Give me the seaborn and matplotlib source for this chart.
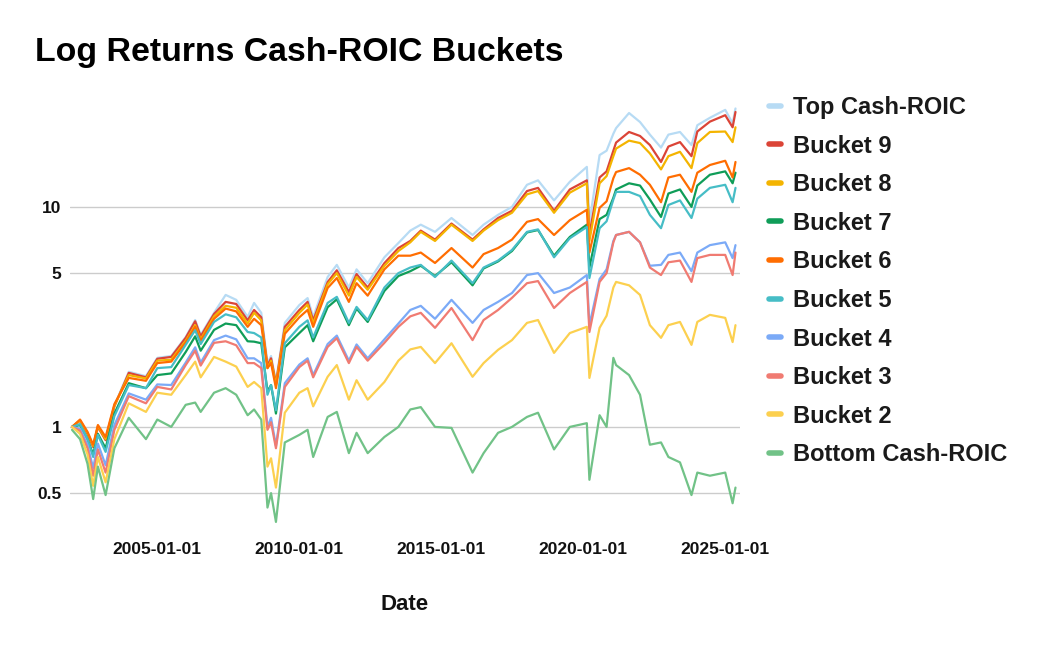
import pandas as pd
import seaborn as sns
import matplotlib.pyplot as plt
import matplotlib.dates as mdates
from matplotlib.lines import Line2D
from matplotlib.ticker import NullLocator, FixedLocator, FixedFormatter

dates = ["2002-01-02", "2002-04-15", "2002-07-20", "2002-10-01", "2002-12-01", "2003-03-10",
         "2003-07-01", "2004-01-02", "2004-08-10", "2005-01-03", "2005-07-01", "2006-01-03",
         "2006-05-05", "2006-07-15", "2007-01-03", "2007-06-01", "2007-10-15", "2008-03-10",
         "2008-06-01", "2008-09-01", "2008-11-20", "2009-01-05", "2009-03-09", "2009-07-01",
         "2010-01-04", "2010-04-20", "2010-07-01", "2011-01-03", "2011-05-01", "2011-10-03",
         "2012-01-10", "2012-06-01", "2013-01-02", "2013-07-01", "2013-12-01", "2014-04-15",
         "2014-10-15", "2015-05-15", "2016-02-10", "2016-07-01", "2017-01-03", "2017-07-01",
         "2018-01-10", "2018-06-01", "2018-12-24", "2019-07-15", "2020-02-19", "2020-03-23",
         "2020-08-01", "2020-10-30", "2021-01-25", "2021-03-01", "2021-08-15", "2022-01-03",
         "2022-05-10", "2022-09-30", "2023-01-03", "2023-06-01", "2023-10-27", "2024-01-10",
         "2024-06-20", "2025-01-03", "2025-04-08", "2025-05-15"]

top = [1.00, 1.06, 0.93, 0.82, 1.00, 0.88, 1.25, 1.78, 1.70, 2.06,
       2.10, 2.56, 3.06, 2.62, 3.30, 3.98, 3.78, 3.16, 3.66, 3.30,
       1.95, 2.10, 1.60, 2.97, 3.58, 3.85, 3.16, 4.80, 5.45, 4.30,
       5.20, 4.50, 5.90, 6.85, 7.80, 8.30, 7.70, 8.90, 7.45, 8.30,
       9.20, 10.0, 12.6, 13.2, 10.7, 13.0, 15.2, 8.50, 17.2, 18.0,
       21.5, 22.8, 26.7, 24.3, 21.3, 18.6, 21.3, 21.9, 19.1, 23.5,
       25.4, 27.6, 24.0, 28.0]
b9 = [1.00, 1.07, 0.93, 0.81, 1.00, 0.87, 1.24, 1.76, 1.68, 2.04,
      2.08, 2.54, 3.02, 2.58, 3.26, 3.70, 3.62, 3.05, 3.40, 3.15,
      1.90, 2.05, 1.58, 2.85, 3.40, 3.70, 3.05, 4.55, 5.15, 4.10,
      4.95, 4.30, 5.55, 6.50, 7.00, 7.80, 7.10, 8.40, 7.10, 7.90,
      8.90, 9.60, 11.8, 12.2, 9.60, 12.0, 13.2, 7.50, 13.6, 14.5,
      18.0, 19.6, 21.9, 21.0, 19.1, 16.0, 18.8, 19.7, 17.0, 22.0,
      24.4, 26.1, 23.0, 27.0]
b8 = [1.00, 1.07, 0.94, 0.82, 1.01, 0.88, 1.25, 1.72, 1.66, 2.00,
      2.02, 2.46, 2.90, 2.50, 3.18, 3.55, 3.48, 2.95, 3.30, 3.05,
      1.85, 2.00, 1.55, 2.75, 3.30, 3.60, 2.95, 4.45, 5.00, 3.95,
      4.80, 4.20, 5.40, 6.30, 6.90, 7.70, 7.00, 8.30, 7.00, 7.80,
      8.70, 9.40, 11.4, 11.8, 9.40, 11.6, 12.8, 7.00, 12.8, 13.8,
      17.0, 18.4, 20.0, 19.5, 17.5, 14.8, 17.0, 17.8, 15.0, 19.5,
      21.9, 22.0, 19.7, 23.0]
b7 = [1.00, 1.02, 0.88, 0.75, 0.93, 0.80, 1.15, 1.58, 1.50, 1.72,
      1.75, 2.19, 2.58, 2.22, 2.76, 2.95, 2.90, 2.45, 2.44, 2.40,
      1.45, 1.55, 1.15, 2.30, 2.67, 2.90, 2.45, 3.50, 3.80, 2.90,
      3.45, 3.00, 4.15, 4.85, 5.10, 5.40, 4.85, 5.60, 4.40, 5.25,
      5.65, 6.30, 7.65, 7.85, 6.00, 7.30, 8.30, 5.30, 8.80, 9.20,
      11.0, 12.0, 12.8, 12.5, 10.8, 9.00, 11.5, 12.0, 10.0, 12.5,
      14.0, 14.5, 12.8, 14.3]
b6 = [1.00, 1.08, 0.95, 0.83, 1.02, 0.90, 1.27, 1.67, 1.62, 1.95,
      1.98, 2.42, 2.85, 2.46, 3.10, 3.45, 3.35, 2.85, 3.10, 2.90,
      1.85, 1.95, 1.50, 2.65, 3.15, 3.40, 2.85, 4.28, 4.75, 3.70,
      4.50, 3.95, 5.20, 6.00, 6.00, 6.20, 5.56, 6.50, 5.30, 6.10,
      6.50, 7.10, 8.55, 8.80, 7.45, 8.70, 9.70, 6.20, 9.90, 10.6,
      13.5, 14.4, 15.0, 14.0, 12.6, 10.5, 13.6, 14.0, 11.7, 14.3,
      15.5, 16.2, 13.6, 16.0]
b5 = [1.00, 1.03, 0.88, 0.73, 0.92, 0.77, 1.12, 1.55, 1.50, 1.85,
      1.87, 2.36, 2.75, 2.38, 3.00, 3.25, 3.15, 2.70, 2.67, 2.55,
      1.40, 1.55, 1.19, 2.40, 2.85, 3.05, 2.55, 3.66, 3.90, 2.97,
      3.51, 3.06, 4.30, 5.00, 5.30, 5.45, 4.80, 5.70, 4.50, 5.30,
      5.70, 6.37, 7.70, 7.90, 5.90, 7.20, 8.10, 4.75, 8.00, 8.60,
      10.8, 11.7, 11.7, 11.2, 9.20, 8.00, 10.2, 10.7, 8.90, 10.9,
      12.2, 12.6, 10.5, 12.2]
b4 = [1.00, 0.98, 0.83, 0.65, 0.84, 0.67, 1.02, 1.42, 1.33, 1.56,
      1.55, 1.96, 2.30, 1.96, 2.48, 2.60, 2.50, 2.05, 2.05, 1.95,
      1.00, 1.10, 0.82, 1.58, 1.92, 2.05, 1.72, 2.38, 2.60, 2.00,
      2.37, 2.05, 2.50, 2.95, 3.40, 3.55, 3.10, 3.78, 2.97, 3.40,
      3.70, 4.06, 4.90, 5.00, 4.06, 4.30, 4.90, 2.90, 4.70, 5.20,
      7.00, 7.45, 7.70, 6.90, 5.40, 5.45, 6.05, 6.20, 5.10, 6.20,
      6.70, 6.90, 5.85, 6.70]
b3 = [1.00, 0.96, 0.80, 0.60, 0.79, 0.62, 0.97, 1.38, 1.28, 1.52,
      1.48, 1.91, 2.22, 1.90, 2.41, 2.45, 2.35, 1.95, 1.95, 1.85,
      0.97, 1.05, 0.80, 1.52, 1.87, 2.00, 1.68, 2.31, 2.53, 1.95,
      2.31, 2.00, 2.41, 2.85, 3.18, 3.30, 2.82, 3.47, 2.48, 3.06,
      3.40, 3.86, 4.50, 4.60, 3.47, 4.06, 4.56, 2.70, 4.56, 5.00,
      6.90, 7.45, 7.70, 6.90, 5.30, 4.90, 5.60, 5.70, 4.56, 5.85,
      6.05, 6.05, 4.90, 6.20]
b2 = [1.00, 0.93, 0.75, 0.54, 0.73, 0.56, 0.88, 1.28, 1.17, 1.43,
      1.40, 1.72, 1.98, 1.68, 2.08, 1.98, 1.88, 1.52, 1.60, 1.50,
      0.66, 0.72, 0.53, 1.16, 1.43, 1.50, 1.24, 1.69, 1.91, 1.33,
      1.63, 1.33, 1.60, 2.00, 2.25, 2.31, 1.95, 2.40, 1.69, 1.95,
      2.24, 2.48, 2.97, 3.06, 2.17, 2.67, 2.85, 1.67, 2.82, 3.20,
      4.30, 4.56, 4.40, 3.98, 2.90, 2.54, 2.90, 3.00, 2.36, 3.00,
      3.23, 3.13, 2.43, 2.90]
bottom = [0.97, 0.88, 0.68, 0.47, 0.66, 0.49, 0.80, 1.10, 0.88, 1.08,
          1.00, 1.26, 1.29, 1.17, 1.43, 1.50, 1.40, 1.13, 1.20, 1.08,
          0.43, 0.50, 0.37, 0.85, 0.92, 0.97, 0.73, 1.11, 1.17, 0.76,
          0.94, 0.76, 0.90, 1.00, 1.20, 1.23, 1.00, 0.99, 0.62, 0.76,
          0.94, 1.00, 1.11, 1.16, 0.79, 1.00, 1.04, 0.575, 1.13, 1.00,
          2.06, 1.91, 1.72, 1.40, 0.83, 0.85, 0.73, 0.69, 0.49, 0.62,
          0.60, 0.62, 0.45, 0.53]

names = ["Top Cash-ROIC", "Bucket 9", "Bucket 8", "Bucket 7", "Bucket 6",
         "Bucket 5", "Bucket 4", "Bucket 3", "Bucket 2", "Bottom Cash-ROIC"]
colors = ["#b7dbf4", "#db4437", "#f4b400", "#0f9d58", "#ff6d01",
          "#46bdc6", "#7baaf7", "#f07b72", "#fcd04f", "#71c287"]
series = [top, b9, b8, b7, b6, b5, b4, b3, b2, bottom]

# long-form table for seaborn
df = pd.concat([pd.DataFrame({"Date": pd.to_datetime(dates), "Value": s, "Series": n})
                for n, s in zip(names, series)], ignore_index=True)

sns.set_theme(style="white")
plt.rcParams["font.family"] = ["Liberation Sans", "DejaVu Sans"]

fig = plt.figure(figsize=(10.4, 6.5), dpi=100)
ax = fig.add_axes([70 / 1040, 1 - 530 / 650, 670 / 1040, 430 / 650])

sns.lineplot(data=df, x="Date", y="Value", hue="Series", hue_order=names,
             palette=dict(zip(names, colors)), linewidth=1.6, sort=False,
             estimator=None, legend=False, ax=ax)

ax.set_yscale("log")
ax.set_ylim(0.34, 30.6)
ax.set_xlim(pd.Timestamp("2001-12-07"), pd.Timestamp("2025-07-12"))

ax.yaxis.set_major_locator(FixedLocator([0.5, 1, 5, 10]))
ax.yaxis.set_major_formatter(FixedFormatter(["0.5", "1", "5", "10"]))
ax.yaxis.set_minor_locator(NullLocator())
ax.set_xticks(pd.to_datetime(["2005-01-01", "2010-01-01", "2015-01-01", "2020-01-01", "2025-01-01"]))
ax.xaxis.set_major_formatter(mdates.DateFormatter("%Y-%m-%d"))
ax.tick_params(axis="both", length=0, labelsize=12.5, colors="#111111")
ax.tick_params(axis="x", pad=9)
ax.tick_params(axis="y", pad=6)
for lab in ax.get_xticklabels() + ax.get_yticklabels():
    lab.set_fontweight("bold")

ax.grid(axis="y", color="#cccccc", linewidth=1)
ax.grid(axis="x", visible=False)
for sp in ax.spines.values():
    sp.set_visible(False)
ax.set_xlabel("")
ax.set_ylabel("")

fig.text(35 / 1040, 1 - 53 / 650, "Log Returns Cash-ROIC Buckets",
         fontsize=24.4, fontweight="bold", va="center", ha="left", color="#000000")
fig.text(405 / 1040, 1 - 604 / 650, "Date", fontsize=16, fontweight="bold",
         va="center", ha="center", color="#111111")

handles = [Line2D([0], [0], color=c, lw=4) for c in colors]
leg = fig.legend(handles, names, loc="upper left", bbox_to_anchor=(769 / 1040, 1 - 96 / 650),
                 frameon=False, fontsize=17, handlelength=0.5, handletextpad=0.5,
                 labelspacing=0.66, borderpad=0, borderaxespad=0)
for t in leg.get_texts():
    t.set_fontweight("bold")
    t.set_color("#1a1a1a")

fig.savefig("out.png", dpi=100)
